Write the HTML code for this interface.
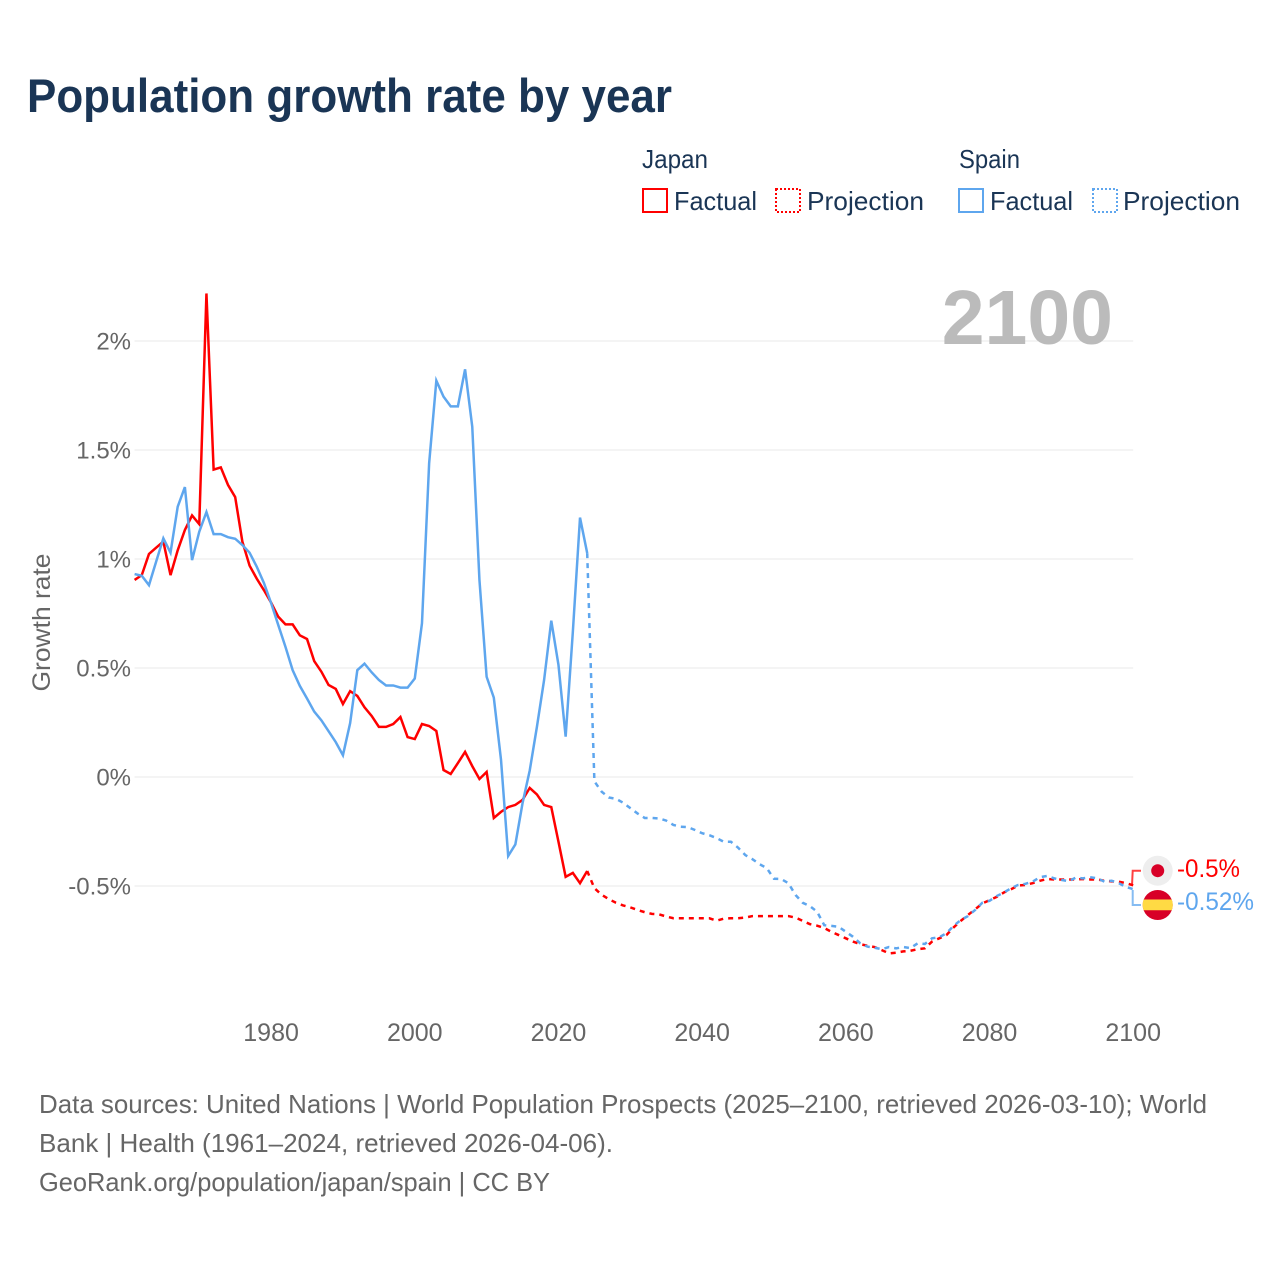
<!DOCTYPE html>
<html lang="en">
<head>
<meta charset="utf-8">
<title>Population growth rate by year</title>
<style>
html,body{margin:0;padding:0;background:#fff;}
svg{display:block;font-family:"Liberation Sans",Arial,sans-serif;}
</style>
</head>
<body>
<svg id="chart" xmlns="http://www.w3.org/2000/svg" width="1280" height="1280" viewBox="0 0 1280 1280">
  <rect x="0" y="0" width="1280" height="1280" fill="#ffffff"/>
  <text x="27" y="112" font-size="47" font-weight="700" fill="#1a3555" textLength="645" lengthAdjust="spacingAndGlyphs">Population growth rate by year</text>

  <g font-size="26" fill="#1a3555">
    <text x="642" y="168" textLength="66" lengthAdjust="spacingAndGlyphs">Japan</text>
    <rect x="643" y="189" width="24" height="23" fill="none" stroke="#ff0000" stroke-width="2"/>
    <text x="674" y="210" textLength="83" lengthAdjust="spacingAndGlyphs">Factual</text>
    <rect x="776" y="189" width="24" height="23" fill="none" stroke="#ff0000" stroke-width="2" stroke-dasharray="2 2"/>
    <text x="807" y="210" textLength="117" lengthAdjust="spacingAndGlyphs">Projection</text>
    <text x="959" y="168" textLength="61" lengthAdjust="spacingAndGlyphs">Spain</text>
    <rect x="959" y="189" width="24" height="23" fill="none" stroke="#5ea6ee" stroke-width="2"/>
    <text x="990" y="210" textLength="83" lengthAdjust="spacingAndGlyphs">Factual</text>
    <rect x="1093" y="189" width="24" height="23" fill="none" stroke="#5ea6ee" stroke-width="2" stroke-dasharray="2 2"/>
    <text x="1123" y="210" textLength="117" lengthAdjust="spacingAndGlyphs">Projection</text>
  </g>

  <g id="grid"></g>
  <g id="yticks"></g>
  <g id="xticks"></g>

  <text transform="translate(50,622.5) rotate(-90)" text-anchor="middle" font-size="25" fill="#666666" textLength="138" lengthAdjust="spacingAndGlyphs">Growth rate</text>

  <text x="1113" y="344" text-anchor="end" font-size="77" font-weight="700" fill="#bbbbbb">2100</text>

  <g id="series"></g>

  <g>
    <polyline points="1132,885.5 1132.7,870.7 1141,870.7" fill="none" stroke="#ff0000" stroke-opacity="0.75" stroke-width="2"/>
    <polyline points="1132.7,890 1132.7,905 1141,905" fill="none" stroke="#5ea6ee" stroke-opacity="0.75" stroke-width="2"/>
    <g>
      <circle cx="1157.7" cy="870.7" r="15" fill="#eeeeee"/>
      <circle cx="1157.7" cy="870.7" r="6.5" fill="#d80027"/>
    </g>
    <g>
      <circle cx="1157.7" cy="905" r="15" fill="#d80027"/>
      <path d="M1143.6 899.5 H1171.8 A15 15 0 0 1 1171.8 910.3 H1143.6 A15 15 0 0 1 1143.6 899.5 Z" fill="#ffda44"/>
    </g>
    <text x="1177" y="877" font-size="25" fill="#ff0000" textLength="63" lengthAdjust="spacingAndGlyphs">-0.5%</text>
    <text x="1177" y="910" font-size="25" fill="#5ea6ee" textLength="77" lengthAdjust="spacingAndGlyphs">-0.52%</text>
  </g>

  <g font-size="26" fill="#666666">
    <text x="39" y="1113" textLength="1168" lengthAdjust="spacingAndGlyphs">Data sources: United Nations | World Population Prospects (2025–2100, retrieved 2026-03-10); World</text>
    <text x="39" y="1152" textLength="574" lengthAdjust="spacingAndGlyphs">Bank | Health (1961–2024, retrieved 2026-04-06).</text>
    <text x="39" y="1191" textLength="511" lengthAdjust="spacingAndGlyphs">GeoRank.org/population/japan/spain | CC BY</text>
  </g>
</svg>
<script>
const factualStartYear = 1961;
const projectionStartYear = 2024;
const yTickValues = [2, 1.5, 1, 0.5, 0, -0.5];
const yTickLabels = ["2%", "1.5%", "1%", "0.5%", "0%", "-0.5%"];
const xTickYears = [1980, 2000, 2020, 2040, 2060, 2080, 2100];

const japanFactual = [0.904,0.926,1.023,1.052,1.08,0.926,1.04,1.133,1.2,1.16,2.218,1.41,1.42,1.34,1.284,1.08,0.97,0.91,0.857,0.8,0.735,0.7,0.7,0.65,0.633,0.532,0.483,0.422,0.404,0.335,0.394,0.372,0.32,0.28,0.23,0.23,0.243,0.275,0.183,0.174,0.243,0.234,0.211,0.032,0.014,0.064,0.115,0.05,-0.009,0.023,-0.188,-0.16,-0.138,-0.128,-0.105,-0.05,-0.08,-0.128,-0.138,-0.297,-0.458,-0.44,-0.487,-0.431];

const spainFactual = [0.931,0.923,0.88,0.988,1.095,1.029,1.24,1.33,0.995,1.125,1.215,1.114,1.114,1.1,1.093,1.064,1.029,0.965,0.89,0.798,0.697,0.597,0.49,0.418,0.36,0.3,0.26,0.21,0.16,0.1,0.247,0.49,0.52,0.48,0.445,0.42,0.42,0.41,0.41,0.452,0.705,1.44,1.818,1.745,1.7,1.7,1.87,1.607,0.904,0.46,0.364,0.08,-0.362,-0.309,-0.12,0.03,0.23,0.445,0.717,0.514,0.185,0.665,1.19,1.027];

const japanProjection = [-0.431,-0.51,-0.54,-0.56,-0.577,-0.589,-0.598,-0.61,-0.62,-0.628,-0.63,-0.64,-0.648,-0.648,-0.648,-0.648,-0.648,-0.648,-0.659,-0.65,-0.648,-0.648,-0.645,-0.638,-0.638,-0.638,-0.638,-0.638,-0.638,-0.645,-0.66,-0.675,-0.682,-0.693,-0.71,-0.725,-0.74,-0.755,-0.767,-0.774,-0.78,-0.794,-0.809,-0.806,-0.8,-0.797,-0.79,-0.786,-0.755,-0.74,-0.725,-0.69,-0.66,-0.633,-0.607,-0.58,-0.565,-0.55,-0.53,-0.515,-0.498,-0.495,-0.487,-0.476,-0.468,-0.47,-0.47,-0.47,-0.47,-0.468,-0.47,-0.47,-0.476,-0.479,-0.48,-0.487,-0.497];

const spainProjection = [1.027,-0.02,-0.067,-0.094,-0.1,-0.118,-0.143,-0.167,-0.188,-0.188,-0.19,-0.2,-0.22,-0.228,-0.23,-0.243,-0.258,-0.267,-0.28,-0.297,-0.297,-0.324,-0.358,-0.377,-0.4,-0.418,-0.467,-0.468,-0.487,-0.541,-0.577,-0.592,-0.618,-0.68,-0.683,-0.687,-0.71,-0.733,-0.763,-0.778,-0.783,-0.79,-0.78,-0.786,-0.78,-0.785,-0.763,-0.766,-0.74,-0.735,-0.717,-0.683,-0.656,-0.638,-0.61,-0.577,-0.568,-0.546,-0.53,-0.51,-0.495,-0.49,-0.48,-0.46,-0.454,-0.465,-0.472,-0.478,-0.462,-0.465,-0.46,-0.465,-0.48,-0.476,-0.487,-0.505,-0.514];

const SVG_NS = "http://www.w3.org/2000/svg";
const xAxisLeft = 134.6, xAxisRight = 1133.2, xDomainMin = 1961, xDomainMax = 2100;
const yZero = 777, yPerUnit = 218;

function xScale(year) {
  return xAxisLeft + (year - xDomainMin) * (xAxisRight - xAxisLeft) / (xDomainMax - xDomainMin);
}
function yScale(value) {
  return yZero - value * yPerUnit;
}
function pathFor(startYear, values) {
  return values.map(function (v, i) {
    return (i ? "L" : "M") + xScale(startYear + i).toFixed(2) + " " + yScale(v).toFixed(2);
  }).join(" ");
}

const gridGroup = document.getElementById("grid");
const yTickGroup = document.getElementById("yticks");
yTickValues.forEach(function (v, i) {
  const line = document.createElementNS(SVG_NS, "line");
  
  
  line.setAttribute("x1", xAxisLeft);
  line.setAttribute("x2", xAxisRight);
  line.setAttribute("y1", yScale(v));
  line.setAttribute("y2", yScale(v));
  line.setAttribute("stroke", "#e8e8e8");
  line.setAttribute("stroke-width", "1");
  gridGroup.appendChild(line);

  const label = document.createElementNS(SVG_NS, "text");
  
  
  label.setAttribute("x", 131);
  label.setAttribute("y", yScale(v) + 8.5);
  label.setAttribute("text-anchor", "end");
  label.setAttribute("font-size", "24");
  label.setAttribute("fill", "#666666");
  label.textContent = yTickLabels[i];
  yTickGroup.appendChild(label);
});

const xTickGroup = document.getElementById("xticks");
xTickYears.forEach(function (year) {
  const label = document.createElementNS(SVG_NS, "text");
  
  
  label.setAttribute("x", xScale(year));
  label.setAttribute("y", 1041);
  label.setAttribute("text-anchor", "middle");
  label.setAttribute("font-size", "25");
  label.setAttribute("fill", "#666666");
  label.textContent = String(year);
  xTickGroup.appendChild(label);
});

const seriesGroup = document.getElementById("series");

const japanFactualLine = document.createElementNS(SVG_NS, "path");


japanFactualLine.setAttribute("d", pathFor(factualStartYear, japanFactual));
japanFactualLine.setAttribute("fill", "none");
japanFactualLine.setAttribute("stroke", "#ff0000");
japanFactualLine.setAttribute("stroke-width", "2.5");
seriesGroup.appendChild(japanFactualLine);

const japanProjectionLine = document.createElementNS(SVG_NS, "path");


japanProjectionLine.setAttribute("d", pathFor(projectionStartYear, japanProjection));
japanProjectionLine.setAttribute("fill", "none");
japanProjectionLine.setAttribute("stroke", "#ff0000");
japanProjectionLine.setAttribute("stroke-width", "2.5");
japanProjectionLine.setAttribute("stroke-dasharray", "5 5");
seriesGroup.appendChild(japanProjectionLine);

const spainFactualLine = document.createElementNS(SVG_NS, "path");


spainFactualLine.setAttribute("d", pathFor(factualStartYear, spainFactual));
spainFactualLine.setAttribute("fill", "none");
spainFactualLine.setAttribute("stroke", "#5ea6ee");
spainFactualLine.setAttribute("stroke-width", "2.5");
seriesGroup.appendChild(spainFactualLine);

const spainProjectionLine = document.createElementNS(SVG_NS, "path");


spainProjectionLine.setAttribute("d", pathFor(projectionStartYear, spainProjection));
spainProjectionLine.setAttribute("fill", "none");
spainProjectionLine.setAttribute("stroke", "#5ea6ee");
spainProjectionLine.setAttribute("stroke-width", "2.5");
spainProjectionLine.setAttribute("stroke-dasharray", "5 5");
seriesGroup.appendChild(spainProjectionLine);
</script>
</body>
</html>
